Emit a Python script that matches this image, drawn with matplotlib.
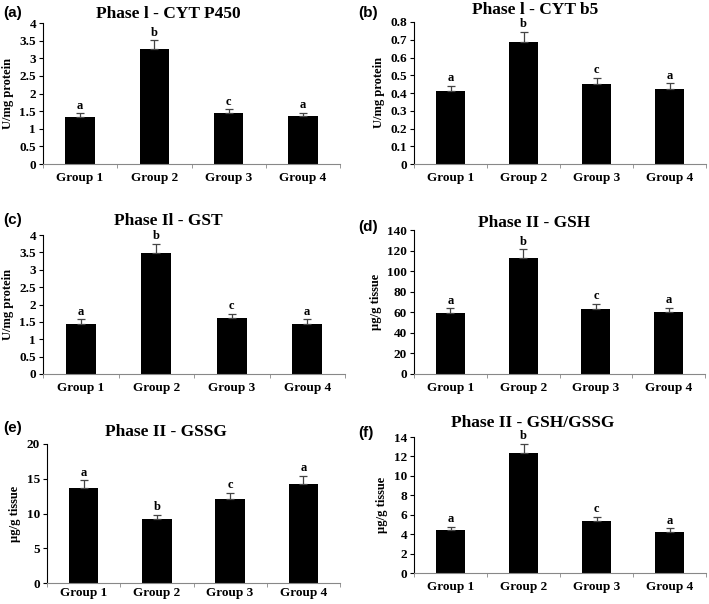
import numpy as np
import matplotlib
matplotlib.use("Agg")
import matplotlib.pyplot as plt

groups = ["Group 1", "Group 2", "Group 3", "Group 4"]
letters = ["a", "b", "c", "a"]

# values (mean, upper error)
cyt_p450 = [1.32, 3.25, 1.45, 1.35]
cyt_p450_err = [0.12, 0.27, 0.11, 0.11]
cyt_b5 = [0.41, 0.69, 0.45, 0.42]
cyt_b5_err = [0.03, 0.055, 0.035, 0.035]
gst = [1.44, 3.48, 1.60, 1.45]
gst_err = [0.13, 0.27, 0.14, 0.13]
gsh = [59.5, 112.5, 63.5, 60.0]
gsh_err = [4.2, 9.0, 4.8, 4.5]
gssg = [13.7, 9.2, 12.05, 14.3]
gssg_err = [1.1, 0.65, 0.95, 1.15]
ratio = [4.4, 12.35, 5.35, 4.25]
ratio_err = [0.35, 0.95, 0.45, 0.38]

W, H = 709, 604
serif = "Liberation Serif"

fig = plt.figure(figsize=(W / 100, H / 100), dpi=100)

def px_axes(x0, x1, ytop, y0):
    return fig.add_axes([x0 / W, 1 - y0 / H, (x1 - x0) / W, (y0 - ytop) / H])

panels = [
    # label, title, ylabel, data, err, ymax, step, axes box, label pos, title pos, x pad
    ("(a)", "Phase l - CYT P450", "U/mg protein", cyt_p450, cyt_p450_err, 4, 0.5,
     (43, 340, 23, 164), (3, 13), (168, 14), 6),
    ("(b)", "Phase l - CYT b5", "U/mg protein", cyt_b5, cyt_b5_err, 0.8, 0.1,
     (414, 706, 22, 164), (358, 13), (535, 10), 6),
    ("(c)", "Phase Il - GST", "U/mg protein", gst, gst_err, 4, 0.5,
     (43, 345, 235, 374), (3, 220), (168, 221), 6),
    ("(d)", "Phase II - GSH", "\u00b5g/g tissue", gsh, gsh_err, 140, 20,
     (414, 705, 230, 374), (358, 227), (534, 223), 6),
    ("(e)", "Phase II - GSSG", "\u00b5g/g tissue", gssg, gssg_err, 20, 5,
     (47, 340, 444, 583), (3, 428), (166, 432), 3),
    ("(f)", "Phase II - GSH/GSSG", "\u00b5g/g tissue", ratio, ratio_err, 14, 2,
     (414, 706, 437, 573), (358, 433), (533, 423), 6),
]

for lab, title, ylab, vals, errs, ymax, step, box, lpos, tpos, xpad in panels:
    ax = px_axes(*box)
    x = np.arange(len(groups))
    ax.bar(x, vals, width=0.4, color="black", zorder=2)
    ax.errorbar(x, vals, yerr=[np.zeros(len(vals)), errs], fmt="none",
                ecolor="#444444", elinewidth=0.9, capsize=3, capthick=0.9, zorder=3)
    for xi, v, e, t in zip(x, vals, errs, letters):
        ax.text(xi, v + e + ymax * 0.01, t, ha="center", va="bottom",
                family=serif, fontweight="bold", fontsize=9)
    ax.set_xlim(-0.5, 3.5)
    ax.set_ylim(0, ymax)
    ticks = np.arange(0, ymax + step / 2, step)
    ax.set_yticks(ticks)
    ax.set_yticklabels([f"{t:g}" for t in ticks], family=serif,
                       fontweight="bold", fontsize=9.5)
    ax.set_xticks(x)
    ax.set_xticklabels(groups, family=serif, fontweight="bold", fontsize=9.5)
    ax.tick_params(axis="x", length=0, pad=xpad)
    ax.set_xticks(np.arange(-0.5, 4, 1), minor=True)
    ax.tick_params(axis="x", which="minor", length=3, color="#888888")
    ax.tick_params(axis="y", length=3, pad=2)
    ax.spines["top"].set_visible(False)
    ax.spines["right"].set_visible(False)
    ax.spines["bottom"].set_color("#888888")
    ax.set_ylabel(ylab, family=serif, fontweight="bold", fontsize=9, labelpad=4)
    fig.text(lpos[0] / W, 1 - lpos[1] / H, lab, ha="left", va="center",
             family="Liberation Sans", fontweight="bold", fontsize=11)
    fig.text(tpos[0] / W, 1 - tpos[1] / H, title, ha="center", va="center",
             family=serif, fontweight="bold", fontsize=12.5)

fig.savefig("out.png", dpi=100)
